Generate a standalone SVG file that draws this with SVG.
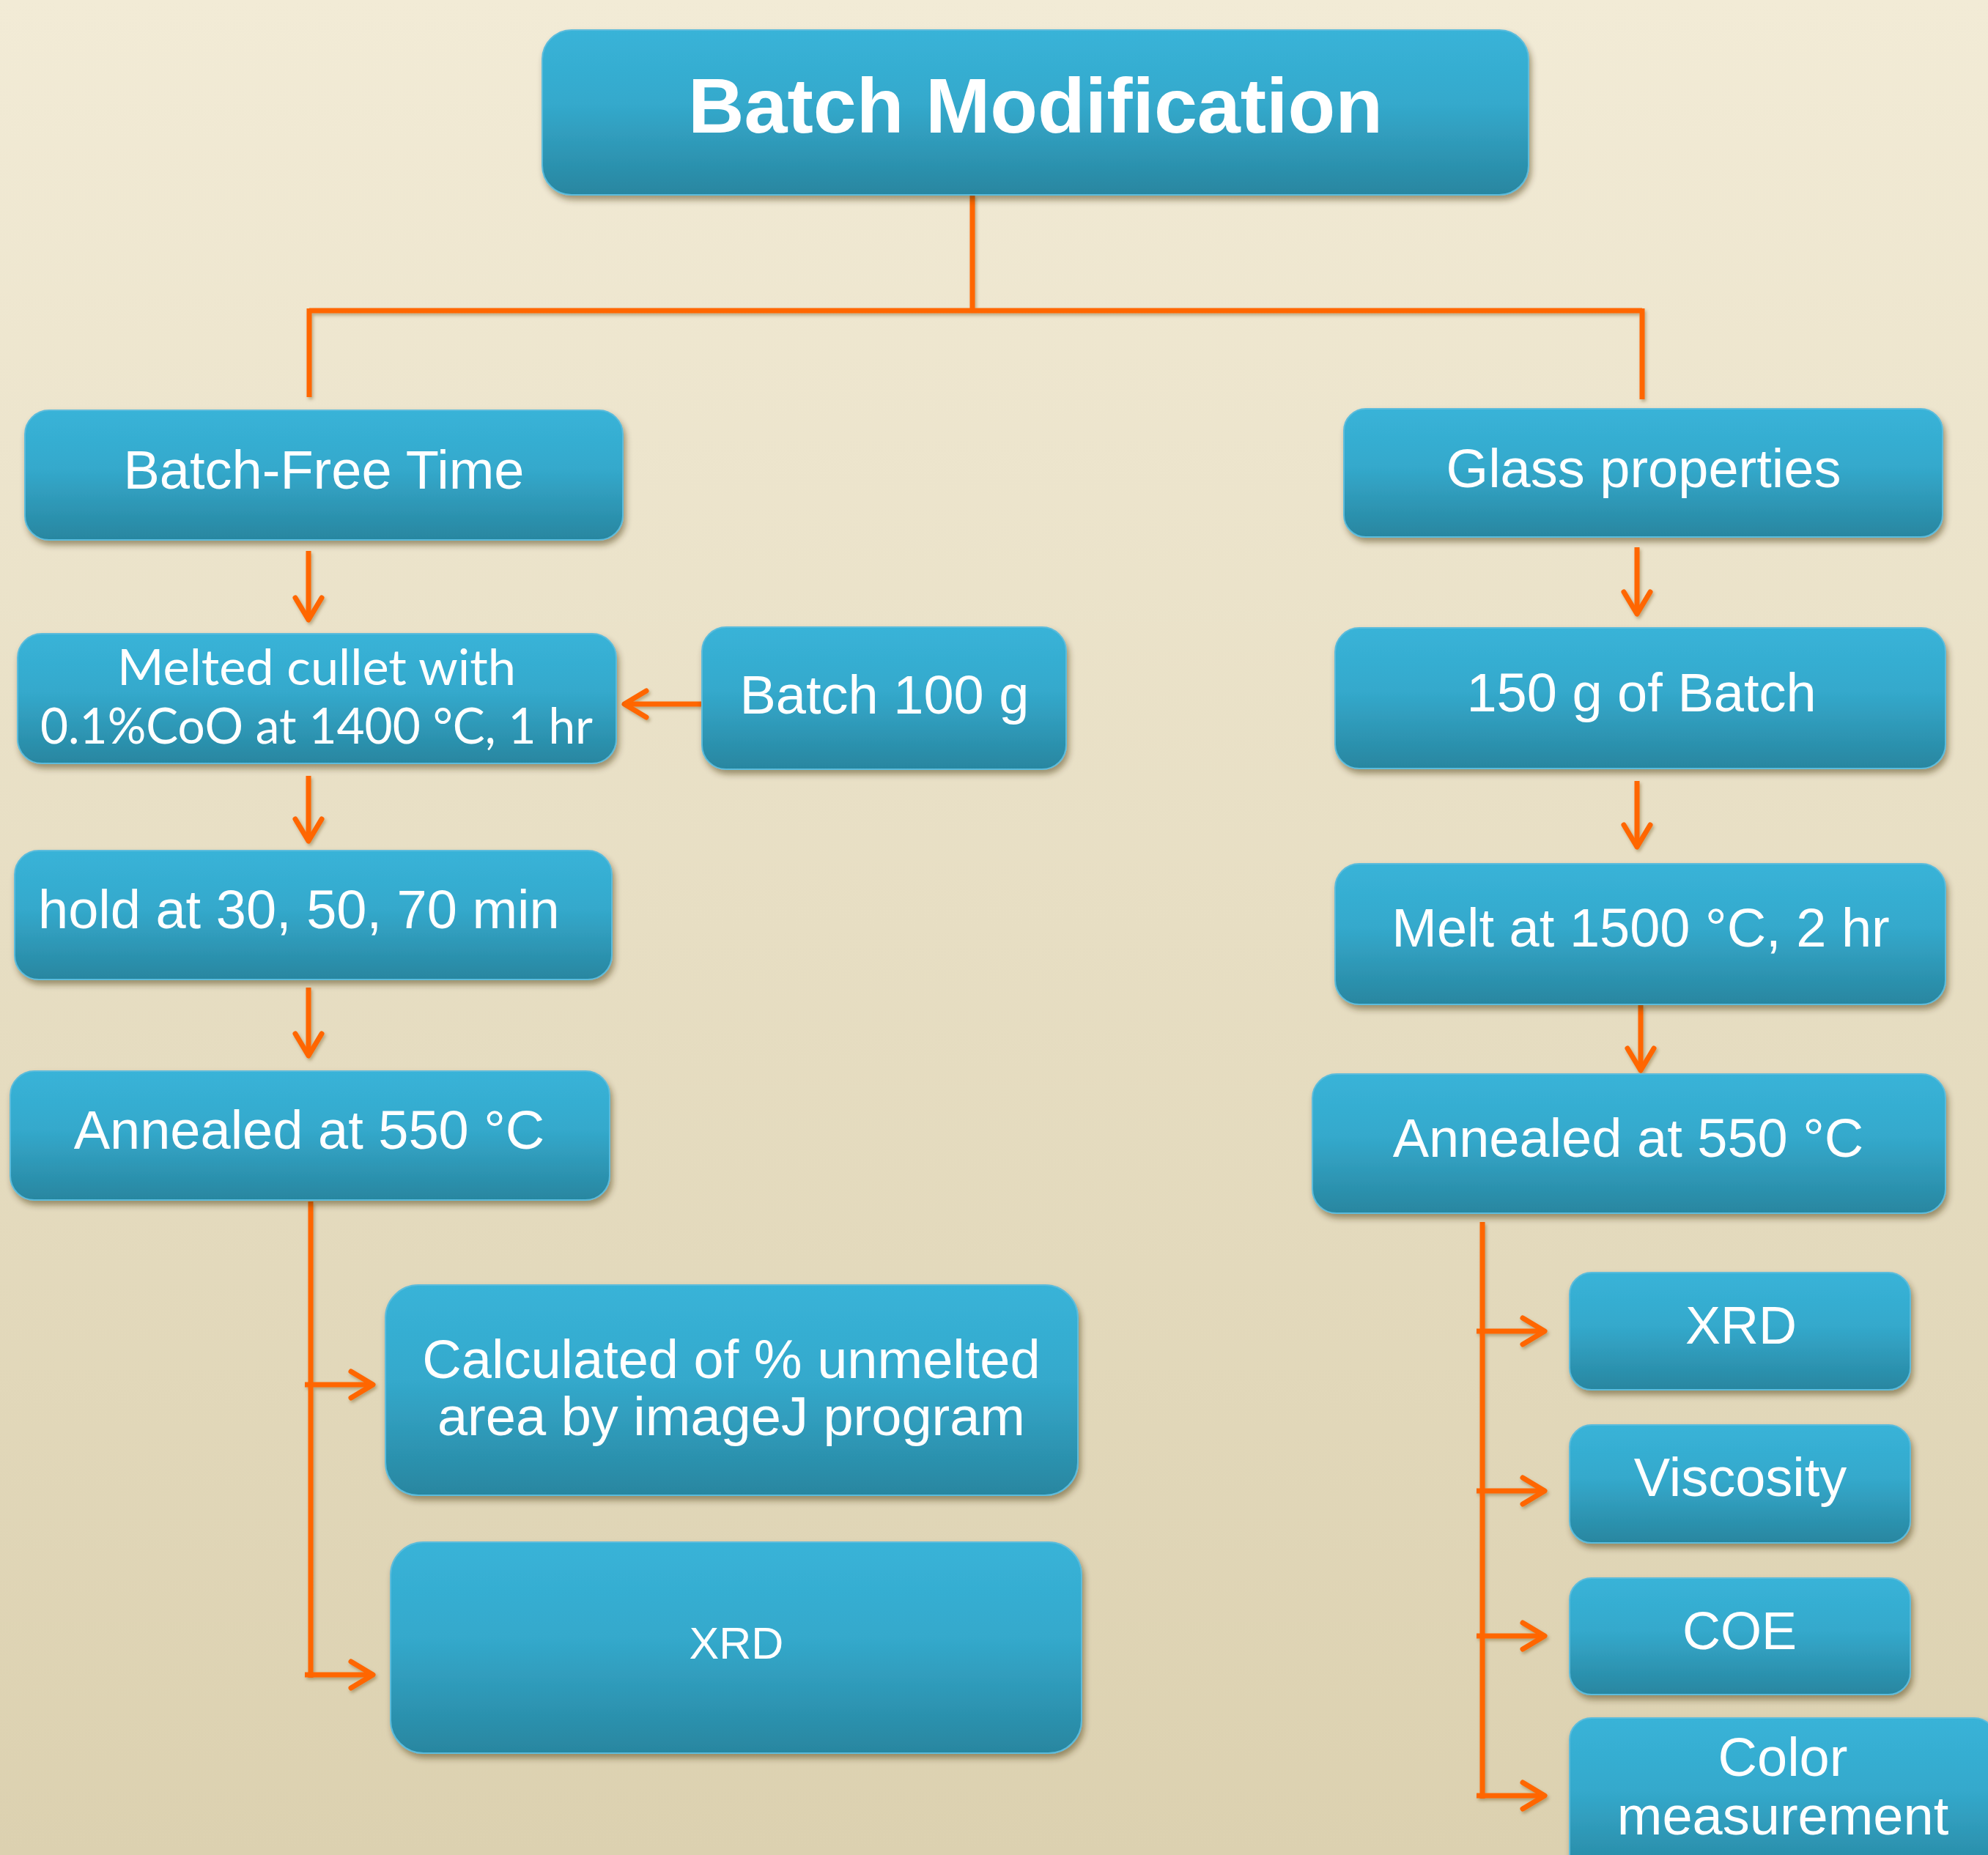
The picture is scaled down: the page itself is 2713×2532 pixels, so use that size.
<svg xmlns="http://www.w3.org/2000/svg" width="2713" height="2532" viewBox="0 0 2713 2532">
<defs>
<linearGradient id="bg" x1="0" y1="0" x2="0" y2="1">
<stop offset="0" stop-color="#f2ebd6"/>
<stop offset="1" stop-color="#dcd1b0"/>
</linearGradient>
<linearGradient id="box" x1="0" y1="0" x2="0" y2="1">
<stop offset="0" stop-color="#38b3d8"/>
<stop offset="0.45" stop-color="#34a9cc"/>
<stop offset="1" stop-color="#2886a0"/>
</linearGradient>
<filter id="sh" x="-10%" y="-10%" width="120%" height="130%">
<feDropShadow dx="3" dy="6" stdDeviation="4" flood-color="#3a2a10" flood-opacity="0.45"/>
</filter>
<filter id="lsh" x="-20%" y="-20%" width="140%" height="140%">
<feDropShadow dx="2" dy="3" stdDeviation="2" flood-color="#5a3a10" flood-opacity="0.35"/>
</filter>
<marker id="ah" viewBox="-40 -25 46 50" refX="0" refY="0" markerWidth="46" markerHeight="50" markerUnits="userSpaceOnUse" orient="auto">
<path d="M-30,-18 L0,0 L-30,18" fill="none" stroke="#ff6600" stroke-width="7" stroke-linecap="round" stroke-linejoin="round"/>
</marker>
<style>
.n rect{fill:url(#box);stroke:#5bbcdc;stroke-width:2;filter:url(#sh)}
.t{fill:#ffffff;font-family:"Liberation Sans",Arial,sans-serif;font-size:74px;text-anchor:middle}
.c{font-family:Lato,"Liberation Sans",sans-serif;font-size:67px}
.ln{fill:none;stroke:#ff6600;stroke-width:7}
.ar{fill:none;stroke:#ff6600;stroke-width:7;marker-end:url(#ah)}
</style>
</defs>
<rect x="0" y="0" width="2713" height="2532" fill="url(#bg)"/>

<g id="connectors" filter="url(#lsh)">
<path class="ln" d="M1327,266 V424 M422,424 H2241 M422,421 V542 M2241,421 V545"/>
<path class="ar" d="M421,752 V846"/>
<path class="ar" d="M957,961 H852"/>
<path class="ar" d="M421,1059 V1148"/>
<path class="ar" d="M421,1348 V1441"/>
<path class="ln" d="M424,1640 V2290"/>
<path class="ar" d="M416,1890 H509"/>
<path class="ar" d="M416,2286 H509"/>
<path class="ar" d="M2234,747 V838"/>
<path class="ar" d="M2234,1066 V1156"/>
<path class="ar" d="M2239,1372 V1461"/>
<path class="ln" d="M2023,1668 V2455"/>
<path class="ar" d="M2015,1817 H2108"/>
<path class="ar" d="M2015,2035 H2108"/>
<path class="ar" d="M2015,2233 H2108"/>
<path class="ar" d="M2015,2451 H2108"/>
</g>

<g id="title" class="n">
<rect x="740" y="41" width="1346" height="225" rx="40"/>
<text class="t" x="1413" y="181" font-size="106" font-weight="bold" style="font-size:106px">Batch Modification</text>
</g>
<g id="batch-free-time" class="n">
<rect x="34" y="560" width="816" height="177" rx="33"/>
<text class="t" x="442" y="667">Batch-Free Time</text>
</g>
<g id="melted-cullet" class="n">
<rect x="24" y="865" width="817" height="177" rx="33"/>
<text class="t c" x="432" y="935" textLength="544" lengthAdjust="spacingAndGlyphs">Melted cullet with</text>
<text class="t c" x="432" y="1015" textLength="754" lengthAdjust="spacingAndGlyphs">0.1%CoO at 1400 °C, 1 hr</text>
</g>
<g id="batch-100g" class="n">
<rect x="958" y="856" width="497" height="194" rx="33"/>
<text class="t" x="1207" y="974">Batch 100 g</text>
</g>
<g id="hold" class="n">
<rect x="20" y="1161" width="815" height="176" rx="33"/>
<text class="t" x="52" y="1267" style="text-anchor:start">hold at 30, 50, 70 min</text>
</g>
<g id="annealed-left" class="n">
<rect x="14" y="1462" width="818" height="176" rx="33"/>
<text class="t" x="422" y="1568">Annealed at 550 °C</text>
</g>
<g id="calculated" class="n">
<rect x="526" y="1754" width="945" height="287" rx="45"/>
<text class="t" x="998" y="1881">Calculated of % unmelted</text>
<text class="t" x="998" y="1959">area by imageJ program</text>
</g>
<g id="xrd-left" class="n">
<rect x="533" y="2105" width="943" height="288" rx="45"/>
<text class="t" x="1005" y="2264" style="font-size:61px">XRD</text>
</g>
<g id="glass-properties" class="n">
<rect x="1834" y="558" width="817" height="175" rx="30"/>
<text class="t" x="2243" y="665">Glass properties</text>
</g>
<g id="batch-150g" class="n">
<rect x="1822" y="857" width="833" height="192" rx="33"/>
<text class="t" x="2240" y="971">150 g of Batch</text>
</g>
<g id="melt" class="n">
<rect x="1822" y="1179" width="833" height="192" rx="33"/>
<text class="t" x="2239" y="1292">Melt at 1500 °C, 2 hr</text>
</g>
<g id="annealed-right" class="n">
<rect x="1791" y="1466" width="864" height="190" rx="33"/>
<text class="t" x="2222" y="1579">Annealed at 550 °C</text>
</g>
<g id="xrd-right" class="n">
<rect x="2142" y="1737" width="465" height="160" rx="30"/>
<text class="t" x="2376" y="1834" style="font-size:72px">XRD</text>
</g>
<g id="viscosity" class="n">
<rect x="2142" y="1945" width="465" height="161" rx="30"/>
<text class="t" x="2375" y="2042">Viscosity</text>
</g>
<g id="coe" class="n">
<rect x="2142" y="2154" width="465" height="159" rx="30"/>
<text class="t" x="2374" y="2251" style="font-size:72px">COE</text>
</g>
<g id="color-measurement" class="n">
<rect x="2142" y="2345" width="582" height="220" rx="30"/>
<text class="t" x="2433" y="2424">Color</text>
<text class="t" x="2433" y="2504">measurement</text>
</g>
</svg>
